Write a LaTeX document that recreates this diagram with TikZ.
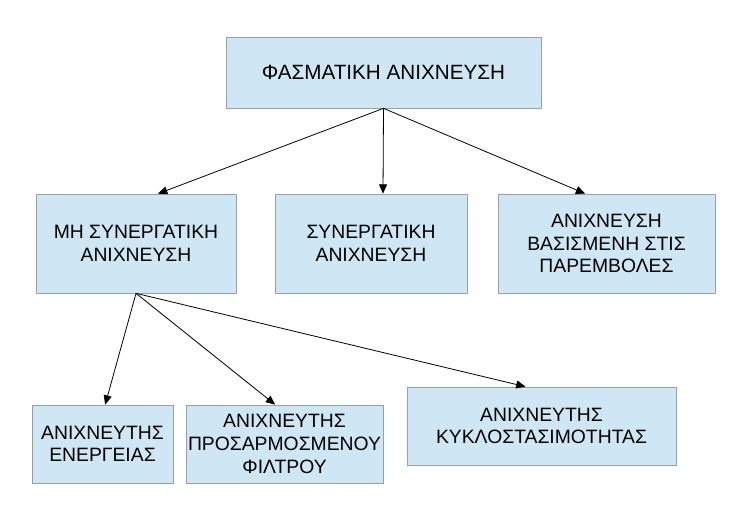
\documentclass[tikz,border=0pt]{standalone}
\usepackage{fontspec}
\setmainfont{Liberation Sans}
\usetikzlibrary{arrows.meta}
\definecolor{boxfill}{RGB}{207,231,245}
\definecolor{boxline}{RGB}{150,160,170}
\begin{document}
\begin{tikzpicture}[x=0.75pt,y=-0.75pt,
  box/.style={draw=boxline,fill=boxfill,line width=0.5pt,align=center,font=\fontsize{14.5}{17}\selectfont,inner sep=1pt},
  arr/.style={-{Triangle[length=7pt,width=6pt]},line width=0.6pt}]
\useasboundingbox (0,0) rectangle (746,526);
\node[box,minimum width=236.25pt,minimum height=53.25pt,font=\fontsize{15.5}{18}\selectfont] (top) at (383.5,72.5) {ΦΑΣΜΑΤΙΚΗ ΑΝΙΧΝΕΥΣΗ};
\node[box,minimum width=150pt,minimum height=74.25pt] (mh) at (136,243.5) {ΜΗ ΣΥΝΕΡΓΑΤΙΚΗ\\ΑΝΙΧΝΕΥΣΗ};
\node[box,minimum width=144pt,minimum height=74.25pt] (syn) at (371,243.5) {ΣΥΝΕΡΓΑΤΙΚΗ\\ΑΝΙΧΝΕΥΣΗ};
\node[box,minimum width=162.75pt,minimum height=74.25pt] (bas) at (606.5,243.5) {ΑΝΙΧΝΕΥΣΗ\\ΒΑΣΙΣΜΕΝΗ ΣΤΙΣ\\ΠΑΡΕΜΒΟΛΕΣ};
\node[box,minimum width=105.75pt,minimum height=58.5pt] (en) at (102.5,444) {ΑΝΙΧΝΕΥΤΗΣ\\ΕΝΕΡΓΕΙΑΣ};
\node[box,minimum width=147.75pt,minimum height=58.5pt] (pr) at (284.5,444) {ΑΝΙΧΝΕΥΤΗΣ\\ΠΡΟΣΑΡΜΟΣΜΕΝΟΥ\\ΦΙΛΤΡΟΥ};
\node[box,minimum width=201.75pt,minimum height=58.5pt] (ky) at (541.5,426) {ΑΝΙΧΝΕΥΤΗΣ\\ΚΥΚΛΟΣΤΑΣΙΜΟΤΗΤΑΣ};
\draw[arr] (top.south) -- ([xshift=16.5pt]mh.north);
\draw[arr] (top.south) -- ([xshift=9pt]syn.north);
\draw[arr] (top.south) -- ([xshift=-16pt]bas.north);
\draw[arr] (mh.south) -- ([xshift=2pt]en.north);
\draw[arr] (mh.south) -- ([xshift=-7pt]pr.north);
\draw[arr] (mh.south) -- ([xshift=-12pt]ky.north);
\end{tikzpicture}
\end{document}
